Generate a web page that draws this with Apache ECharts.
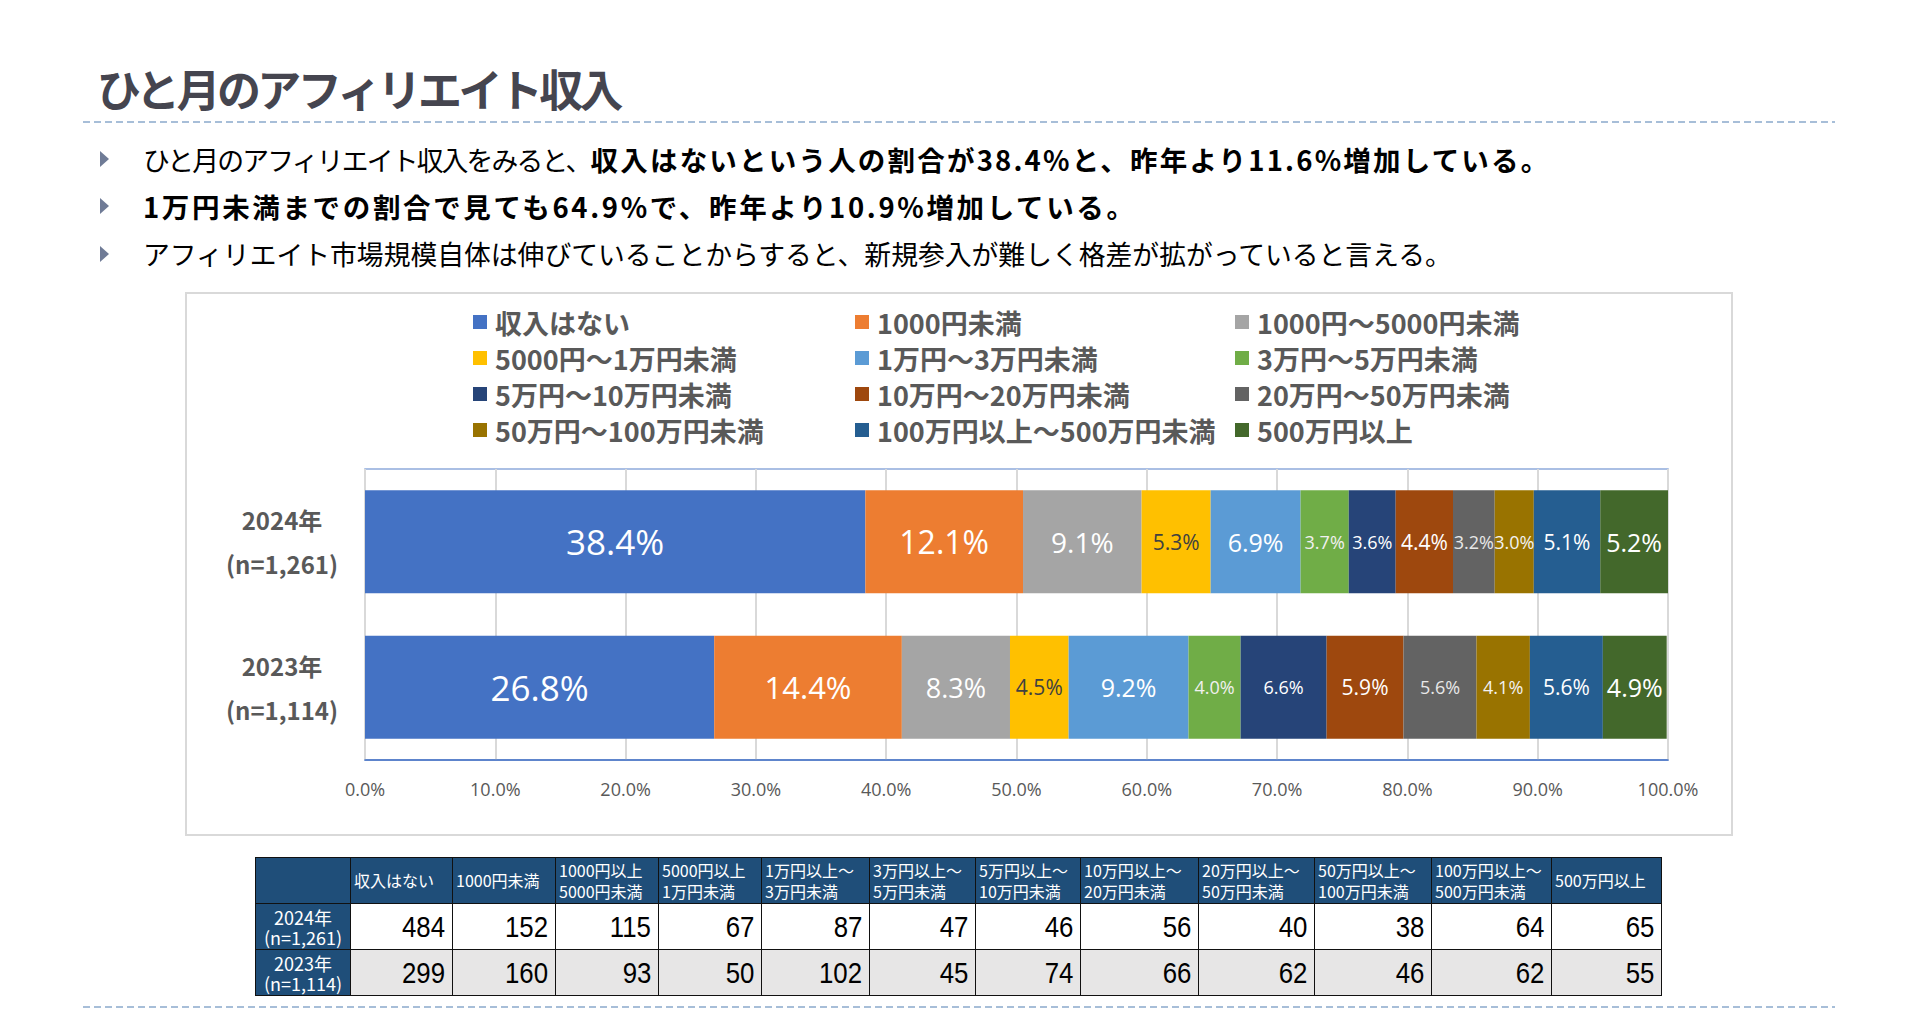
<!DOCTYPE html>
<html>
<head>
<meta charset="utf-8">
<script src="https://cdn.jsdelivr.net/npm/echarts@6/dist/echarts.min.js"></script>
<style>
  html, body { margin: 0; padding: 0; background: #fff; }
  body { width: 1922px; height: 1011px; position: relative; overflow: hidden; font-family: "Noto Sans CJK JP", "Noto Sans", sans-serif; }
  .abs { position: absolute; }
  .dash { position: absolute; left: 83px; width: 1752px; height: 2px;
    background: repeating-linear-gradient(to right, #a7bed8 0 7px, transparent 7px 11px); }
  #title { left: 97px; top: 64px; font-size: 44px; line-height: 48px; font-weight: bold; color: #45454f; letter-spacing: -3.6px; white-space: nowrap; }
  .bullet { position: absolute; left: 143px; font-size: 26.8px; line-height: 40px; color: #000; white-space: nowrap; }
  .bullet b { font-size: 27.5px; letter-spacing: 2.2px; }
  .bullet b.wide { letter-spacing: 2.65px; }
  .bullet span.tight { letter-spacing: -1.8px; }
  .tri { position: absolute; left: 100px; width: 0; height: 0; border-top: 8px solid transparent; border-bottom: 8px solid transparent; border-left: 9px solid #6f7b96; }
  #frame { left: 185px; top: 292px; width: 1548px; height: 544px; border: 2px solid #d9d9d9; box-sizing: border-box; pointer-events: none; }
  #chart { left: 186px; top: 293px; width: 1546px; height: 542px; }
  #tbl { position: absolute; left: 255px; top: 857px; border-collapse: collapse; table-layout: fixed; width: 1406px; }
  #tbl td, #tbl th { border: 1px solid #111; padding: 0; overflow: hidden; }
  #tbl th { background: #1f4e79; color: #fff; font-weight: normal; font-size: 16px; line-height: 21px; text-align: left; padding-left: 3px; height: 45px; white-space: pre; }
  #tbl td.rl { background: #1f4e79; color: #fff; font-size: 18px; line-height: 20px; text-align: center; white-space: pre; }
  #tbl td.num { font-family: "Liberation Sans Narrow", "Liberation Sans", sans-serif; font-size: 30px; text-align: right; padding-right: 7px; color: #000; height: 45px; }
  #tbl td.num span { display: inline-block; transform: scaleX(0.86); transform-origin: right center; }
  #tbl tr.r1 td.num { background: #fff; }
  #tbl tr.r2 td.num { background: #e7e6e6; }
</style>
</head>
<body>
<div class="dash" style="top:121px"></div>
<div class="dash" style="top:1006px"></div>
<div id="title" class="abs">ひと月のアフィリエイト収入</div>
<div class="tri" style="top:151px"></div>
<div class="bullet" style="top:139px"><span class="tight">ひと月のアフィリエイト収入をみると、</span><b>収入はないという人の割合が38.4%と、昨年より11.6%増加している。</b></div>
<div class="tri" style="top:198px"></div>
<div class="bullet" style="top:186px"><b class="wide">1万円未満までの割合で見ても64.9%で、昨年より10.9%増加している。</b></div>
<div class="tri" style="top:246px"></div>
<div class="bullet" style="top:234px">アフィリエイト市場規模自体は伸びていることからすると、新規参入が難しく格差が拡がっていると言える。</div>

<div id="chart" class="abs"></div>
<div id="frame" class="abs"></div>
<table id="tbl"></table>

<script>
// ---- Data ----
const categories = ['2024年\n(n=1,261)', '2023年\n(n=1,114)'];
const seriesNames = ['収入はない', '1000円未満', '1000円～5000円未満', '5000円～1万円未満', '1万円～3万円未満', '3万円～5万円未満',
  '5万円～10万円未満', '10万円～20万円未満', '20万円～50万円未満', '50万円～100万円未満', '100万円以上～500万円未満', '500万円以上'];
const pct2024 = [38.4, 12.1, 9.1, 5.3, 6.9, 3.7, 3.6, 4.4, 3.2, 3.0, 5.1, 5.2];
const pct2023 = [26.8, 14.4, 8.3, 4.5, 9.2, 4.0, 6.6, 5.9, 5.6, 4.1, 5.6, 4.9];
const xTicks = [0, 10, 20, 30, 40, 50, 60, 70, 80, 90, 100];
const tableHeaders = ['収入はない', '1000円未満', '1000円以上\n5000円未満', '5000円以上\n1万円未満', '1万円以上～\n3万円未満', '3万円以上～\n5万円未満',
  '5万円以上～\n10万円未満', '10万円以上～\n20万円未満', '20万円以上～\n50万円未満', '50万円以上～\n100万円未満', '100万円以上～\n500万円未満', '500万円以上'];
const tableRowLabels = ['2024年\n(n=1,261)', '2023年\n(n=1,114)'];
const count2024 = [484, 152, 115, 67, 87, 47, 46, 56, 40, 38, 64, 65];
const count2023 = [299, 160, 93, 50, 102, 45, 74, 66, 62, 46, 62, 55];

// ---- Styles ----
const colors = ['#4472C4', '#ED7D31', '#A5A5A5', '#FFC000', '#5B9BD5', '#70AD47', '#264478', '#9E480E', '#636363', '#997300', '#255E91', '#43682B'];
const labelSize2024 = [35, 32, 28, 21, 25, 18, 18, 21, 18, 18, 21, 25];
const labelSize2023 = [35, 31, 27, 21, 25, 18, 18, 21, 18, 18, 21, 25];
const labelColors = ['#fff', '#fff', '#fff', '#404040', '#fff', '#f0f0f0', '#fff', '#fff', '#e8e8e8', '#f2f2f2', '#fff', '#fff'];
const legendCols = [[0, 3, 6, 9], [1, 4, 7, 10], [2, 5, 8, 11]];
const legendLeft = [282, 664, 1044];

// ---- Table ----
(function () {
  const t = document.getElementById('tbl');
  const widths = [95, 102, 103, 103, 103, 108, 106, 105, 118, 116, 117, 120, 110];
  let html = '<colgroup>' + widths.map(w => '<col style="width:' + w + 'px">').join('') + '</colgroup>';
  html += '<tr><th></th>' + tableHeaders.map(h => '<th>' + h + '</th>').join('') + '</tr>';
  [count2024, count2023].forEach((row, i) => {
    html += '<tr class="r' + (i + 1) + '"><td class="rl">' + tableRowLabels[i] + '</td>' +
      row.map(v => '<td class="num"><span>' + v + '</span></td>').join('') + '</tr>';
  });
  t.innerHTML = html;
})();

// ---- Chart ----
const chart = echarts.init(document.getElementById('chart'), null, { renderer: 'svg' });
const cjk = '"Noto Sans CJK JP", "Noto Sans", sans-serif';
const series = seriesNames.map((name, i) => ({
  name: name,
  type: 'bar',
  stack: 'total',
  barWidth: 103,
  itemStyle: { color: colors[i] },
  label: {
    show: true,
    position: 'inside',
    color: labelColors[i],
    fontFamily: '"Open Sans", "Noto Sans", sans-serif',
    formatter: p => p.value.toFixed(1) + '%'
  },
  emphasis: { disabled: true },
  data: [
    { value: pct2024[i], label: { fontSize: labelSize2024[i] } },
    { value: pct2023[i], label: { fontSize: labelSize2023[i] } }
  ]
}));

chart.setOption({
  animation: false,
  color: colors,
  legend: legendCols.map((col, k) => ({
    orient: 'vertical',
    left: legendLeft[k],
    top: 6,
    itemWidth: 14,
    itemHeight: 14,
    itemGap: 0,
    icon: 'rect',
    selectedMode: false,
    textStyle: { fontFamily: cjk, fontSize: 27, fontWeight: 'bold', color: '#595959', lineHeight: 36, padding: [0, 0, 0, 3] },
    data: col.map(i => seriesNames[i])
  })),
  grid: { left: 179, top: 176, width: 1303, height: 291, show: true, borderColor: '#8faadc', borderWidth: 1.5, containLabel: false },
  xAxis: {
    type: 'value', min: xTicks[0], max: xTicks[xTicks.length - 1], interval: xTicks[1] - xTicks[0],
    axisLine: { show: true, lineStyle: { color: '#4472c4', width: 1.5 } },
    axisTick: { show: false },
    splitLine: { show: true, lineStyle: { color: '#d9d9d9', width: 2 } },
    axisLabel: { fontFamily: '"Open Sans", sans-serif', fontSize: 18, color: '#595959', margin: 20,
      formatter: v => v.toFixed(1) + '%' }
  },
  yAxis: {
    type: 'category', inverse: true, data: categories,
    axisLine: { show: false }, axisTick: { show: false }, splitLine: { show: false },
    axisLabel: { fontFamily: cjk, fontSize: 24, fontWeight: 'bold', color: '#595959', lineHeight: 44, align: 'center', margin: 83 }
  },
  series: series
});
</script>
</body>
</html>
